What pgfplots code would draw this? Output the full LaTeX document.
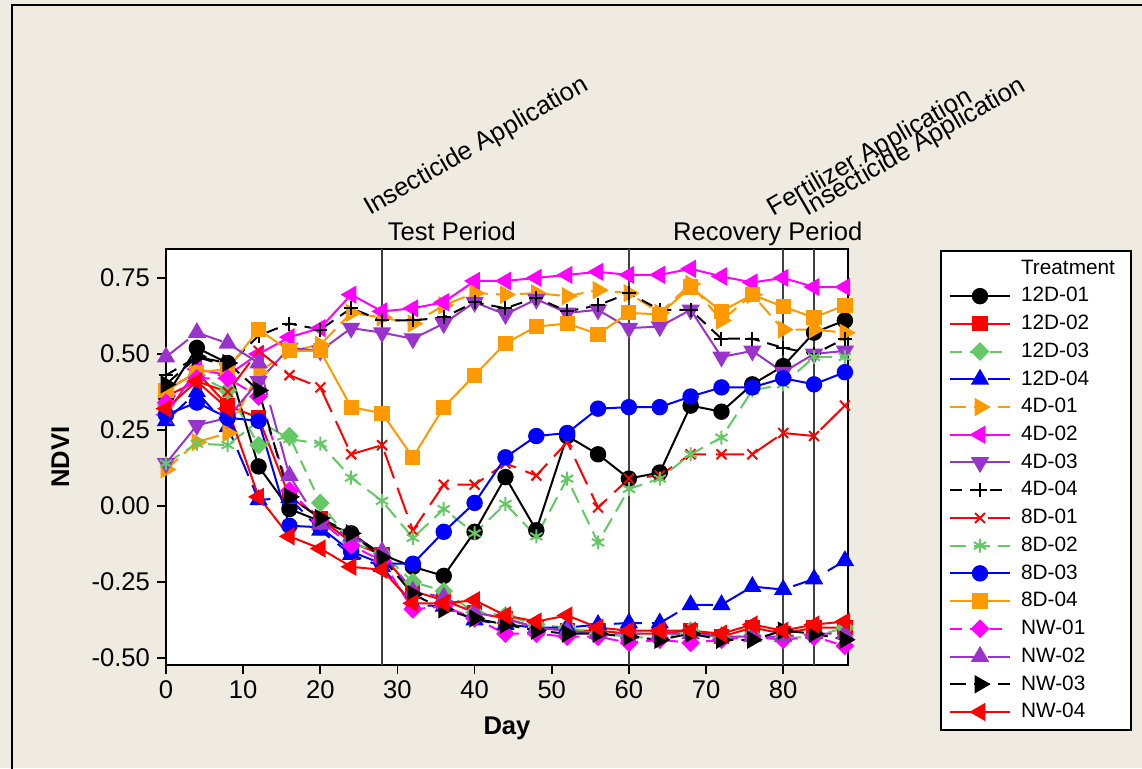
\documentclass[border=0pt]{standalone}
\usepackage{pgfplots}
\pgfplotsset{compat=1.18}
\usepackage{pgfplotstable}
\usepackage{fontspec}
\setmainfont{Liberation Sans}

\definecolor{bgbeige}{RGB}{239,235,224}
\definecolor{mgreen}{RGB}{100,200,100}
\definecolor{morange}{RGB}{255,153,0}
\definecolor{mpurple}{RGB}{153,51,204}
\definecolor{mmagenta}{RGB}{255,0,255}
\definecolor{vline}{RGB}{64,64,64}

% a = 12D, b = 4D, c = 8D, n = NW
\pgfplotstableread{
day a1 a2 a3 a4 b1 b2 b3 b4 c1 c2 c3 c4 n1 n2 n3 n4
0 0.36 0.38 0.33 0.28 0.12 0.30 0.14 0.43 0.36 0.14 0.30 0.38 0.34 0.49 0.40 0.32
4 0.52 0.44 0.43 0.375 0.21 0.45 0.265 0.49 0.41 0.205 0.34 0.44 0.42 0.57 0.49 0.41
8 0.47 0.33 0.38 0.26 0.24 0.43 0.29 0.46 0.375 0.20 0.29 0.45 0.42 0.535 0.47 0.32
12 0.13 0.29 0.20 0.02 0.44 0.50 0.41 0.56 0.51 0.28 0.28 0.58 0.36 0.47 0.38 0.03
16 -0.01 0.03 0.23 0.027 0.51 0.555 0.52 0.60 0.43 0.22 -0.065 0.51 0.05 0.10 0.03 -0.10
20 -0.05 -0.04 0.01 -0.08 0.53 0.585 0.51 0.58 0.39 0.205 -0.07 0.51 -0.05 -0.06 -0.04 -0.14
24 -0.09 -0.12 -0.12 -0.16 0.635 0.695 0.585 0.65 0.17 0.093 -0.15 0.325 -0.13 -0.10 -0.09 -0.20
28 -0.16 -0.16 -0.155 -0.20 0.62 0.64 0.57 0.61 0.20 0.017 -0.19 0.305 -0.18 -0.15 -0.17 -0.21
32 -0.20 -0.28 -0.25 -0.325 0.60 0.65 0.55 0.61 -0.08 -0.105 -0.19 0.16 -0.34 -0.28 -0.29 -0.32
36 -0.23 -0.31 -0.28 -0.33 0.66 0.67 0.60 0.62 0.07 -0.01 -0.085 0.325 -0.33 -0.30 -0.34 -0.32
40 -0.085 -0.35 -0.35 -0.375 0.70 0.74 0.67 0.67 0.07 -0.09 0.01 0.43 -0.37 -0.35 -0.37 -0.31
44 0.095 -0.37 -0.36 -0.39 0.695 0.74 0.63 0.65 0.14 0.007 0.16 0.535 -0.42 -0.37 -0.39 -0.36
48 -0.08 -0.40 -0.39 -0.40 0.70 0.75 0.68 0.685 0.10 -0.10 0.23 0.59 -0.42 -0.40 -0.41 -0.38
52 0.23 -0.41 -0.40 -0.40 0.69 0.76 0.635 0.64 0.21 0.09 0.24 0.60 -0.43 -0.41 -0.42 -0.36
56 0.17 -0.41 -0.42 -0.39 0.71 0.77 0.645 0.66 -0.005 -0.12 0.32 0.565 -0.43 -0.42 -0.42 -0.40
60 0.09 -0.42 -0.43 -0.385 0.70 0.76 0.585 0.70 0.09 0.056 0.325 0.635 -0.45 -0.42 -0.43 -0.41
64 0.11 -0.42 -0.435 -0.385 0.635 0.76 0.59 0.645 0.10 0.09 0.325 0.63 -0.44 -0.42 -0.44 -0.41
68 0.33 -0.41 -0.41 -0.325 0.73 0.78 0.645 0.645 0.17 0.17 0.36 0.72 -0.45 -0.42 -0.42 -0.41
72 0.31 -0.43 -0.435 -0.325 0.61 0.755 0.49 0.55 0.17 0.225 0.39 0.64 -0.44 -0.43 -0.44 -0.42
76 0.40 -0.40 -0.425 -0.265 0.695 0.735 0.51 0.55 0.17 0.38 0.39 0.695 -0.43 -0.43 -0.44 -0.39
80 0.46 -0.42 -0.435 -0.275 0.58 0.75 0.44 0.52 0.24 0.40 0.42 0.655 -0.44 -0.43 -0.41 -0.41
84 0.57 -0.40 -0.43 -0.24 0.58 0.72 0.50 0.50 0.23 0.49 0.40 0.62 -0.43 -0.42 -0.42 -0.39
88 0.61 -0.40 -0.40 -0.18 0.57 0.72 0.51 0.55 0.33 0.49 0.44 0.66 -0.46 -0.42 -0.44 -0.38
}\ndvi

\begin{document}
\begin{tikzpicture}
\path[use as bounding box] (0,0) rectangle (571pt,384pt);
\fill[bgbeige] (0,0) rectangle (571pt,384pt);
\draw[line width=1pt] (572pt,381.5pt) -- (6pt,381.5pt) -- (6pt,-1pt);
\begin{axis}[
  at={(83pt,51.5pt)}, anchor=south west,
  scale only axis, width=341pt, height=208pt,
  xmin=0, xmax=88.4, ymin=-0.523, ymax=0.845,
  axis background/.style={fill=white},
  axis line style={line width=1pt},
  clip=false,
  tick align=outside, xtick pos=lower, ytick pos=lower,
  major tick length=4.5pt,
  tick style={black, line width=0.8pt},
  xtick={0,10,...,80},
  ytick={-0.5,-0.25,0,0.25,0.5,0.75},
  yticklabels={-0.50,-0.25,0.00,0.25,0.50,0.75},
  /pgf/number format/assume math mode=true,
  ticklabel style={font=\fontsize{12.8}{15}\selectfont},
  xlabel={Day}, ylabel={NDVI},
  label style={font=\fontsize{12.8}{15}\selectfont\bfseries},
  xlabel style={at={(axis description cs:0.5,-0.1514)}, anchor=center},
  ylabel style={at={(axis description cs:-0.155,0.5)}, anchor=center},
  every axis plot/.append style={line width=1pt},
  legend image code/.code={\draw[mark repeat=2,mark phase=2,#1] plot coordinates {(0pt,0pt) (15pt,0pt) (30pt,0pt)};},
  legend style={
    at={(1.1349,0.998)}, anchor=north west,
    draw=black, line width=1pt, fill=white,
    font=\fontsize{10.4}{12}\selectfont,
    inner xsep=4pt, inner ysep=2.5pt,
    row sep=1.1pt, column sep=3pt,
    cells={anchor=west},
  },
]
\addplot[vline, line width=1pt, no marks, forget plot] coordinates {(28,-0.523) (28,0.845)};
\addplot[vline, line width=1pt, no marks, forget plot] coordinates {(60,-0.523) (60,0.845)};
\addplot[vline, line width=1pt, no marks, forget plot] coordinates {(80,-0.523) (80,0.845)};
\addplot[vline, line width=1pt, no marks, forget plot] coordinates {(84,-0.523) (84,0.845)};

\addlegendimage{empty legend}
\addlegendentry{\makebox[49pt][l]{Treatment}}

\addplot[black, solid, mark=*, mark size=3.6pt] table[x=day,y=a1]{\ndvi};
\addlegendentry{12D-01}
\addplot[red, solid, mark=square*, mark size=3.3pt] table[x=day,y=a2]{\ndvi};
\addlegendentry{12D-02}
\addplot[mgreen, dash pattern=on 6pt off 4pt, mark=square*, mark size=2.8pt, mark options={rotate=45, solid}] table[x=day,y=a3]{\ndvi};
\addlegendentry{12D-03}
\addplot[blue, dash pattern=on 14pt off 5pt, mark=triangle*, mark size=4.3pt, mark options={solid}] table[x=day,y=a4]{\ndvi};
\addlegendentry{12D-04}
\addplot[morange, dash pattern=on 8pt off 4pt, mark=triangle*, mark size=4.3pt, mark options={rotate=-90, solid}] table[x=day,y=b1]{\ndvi};
\addlegendentry{4D-01}
\addplot[mmagenta, solid, mark=triangle*, mark size=4.3pt, mark options={rotate=90}] table[x=day,y=b2]{\ndvi};
\addlegendentry{4D-02}
\addplot[mpurple, solid, mark=triangle*, mark size=4.3pt, mark options={rotate=180}] table[x=day,y=b3]{\ndvi};
\addlegendentry{4D-03}
\addplot[black, dash pattern=on 6pt off 4pt, mark=+, mark size=3.5pt, mark options={solid}] table[x=day,y=b4]{\ndvi};
\addlegendentry{4D-04}
\addplot[red, dash pattern=on 14pt off 5pt, mark=x, mark size=3.5pt, mark options={solid}] table[x=day,y=c1]{\ndvi};
\addlegendentry{8D-01}
\addplot[mgreen, dash pattern=on 8pt off 4pt, mark=asterisk, mark size=3.5pt, mark options={solid}] table[x=day,y=c2]{\ndvi};
\addlegendentry{8D-02}
\addplot[blue, solid, mark=*, mark size=3.6pt] table[x=day,y=c3]{\ndvi};
\addlegendentry{8D-03}
\addplot[morange, solid, mark=square*, mark size=3.3pt] table[x=day,y=c4]{\ndvi};
\addlegendentry{8D-04}
\addplot[mmagenta, dash pattern=on 6pt off 4pt, mark=square*, mark size=2.8pt, mark options={rotate=45, solid}] table[x=day,y=n1]{\ndvi};
\addlegendentry{NW-01}
\addplot[mpurple, dash pattern=on 14pt off 5pt, mark=triangle*, mark size=4.3pt, mark options={solid}] table[x=day,y=n2]{\ndvi};
\addlegendentry{NW-02}
\addplot[black, dash pattern=on 8pt off 4pt, mark=triangle*, mark size=4.3pt, mark options={rotate=-90, solid}] table[x=day,y=n3]{\ndvi};
\addlegendentry{NW-03}
\addplot[red, solid, mark=triangle*, mark size=4.3pt, mark options={rotate=90}] table[x=day,y=n4]{\ndvi};
\addlegendentry{NW-04}

\node[font=\fontsize{12.8}{15}\selectfont, anchor=base, inner sep=0pt, yshift=4.5pt] at (axis cs:37.05,0.845) {Test Period};
\node[font=\fontsize{12.8}{15}\selectfont, anchor=base, inner sep=0pt, yshift=4.5pt] at (axis cs:78,0.845) {Recovery Period};
\node[font=\fontsize{12.8}{15}\selectfont, anchor=base west, inner sep=0pt, rotate=30] at (axis cs:26.4,0.954) {Insecticide Application};
\node[font=\fontsize{12.8}{15}\selectfont, anchor=base west, inner sep=0pt, rotate=30] at (axis cs:78.76,0.951) {Fertilizer Application};
\node[font=\fontsize{12.8}{15}\selectfont, anchor=base west, inner sep=0pt, rotate=30] at (axis cs:83.16,0.951) {Insecticide Application};
\end{axis}
\end{tikzpicture}
\end{document}
